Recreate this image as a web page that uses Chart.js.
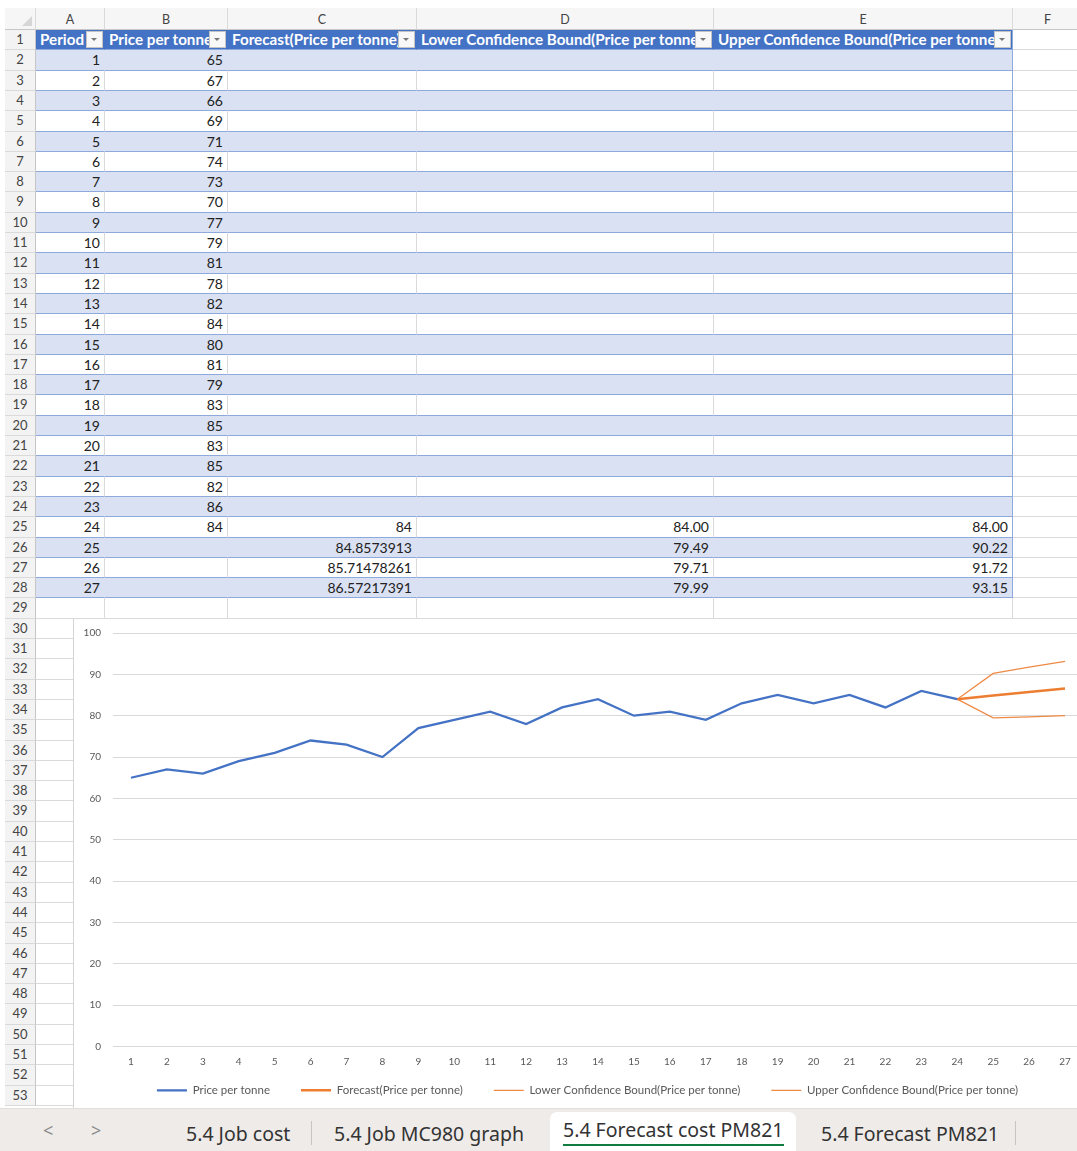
<!DOCTYPE html>
<html>
<head>
<meta charset="utf-8">
<script src="https://cdn.jsdelivr.net/npm/chart.js@4.4.0/dist/chart.umd.min.js"></script>
<style>
  body { margin: 0; width: 1077px; height: 1151px; overflow: hidden; background: #fff; position: relative; font-family: Lato, "Noto Sans", sans-serif; }
  .c { position: absolute; box-sizing: border-box; overflow: hidden; white-space: nowrap; font-size: 14px; color: #222; line-height: 19px; }
  .rh { position: absolute; box-sizing: border-box; left: 5px; width: 31px; background: #f3f3f3; border-right: 1px solid #c6c6c6; border-bottom: 1px solid #dadada; font-size: 13px; color: #444; text-align: center; line-height: 19px; }
  .ch { position: absolute; box-sizing: border-box; top: 8px; height: 22px; background: #f6f6f6; border-right: 1px solid #dadada; border-bottom: 1px solid #c6c6c6; font-size: 12.5px; color: #444; text-align: center; line-height: 23px; }
  .dd { position: absolute; width: 17px; height: 17px; box-sizing: border-box; background: #f8f8f8; border: 1px solid #c4c4c4; }
  .dd::after { content: ""; position: absolute; left: 4px; top: 6px; border-left: 3.5px solid transparent; border-right: 3.5px solid transparent; border-top: 3.5px solid #777; }
  #chartBox { position: absolute; left: 73px; top: 619px; width: 1010px; height: 489px; background: #fff; border-left: 1px solid #d4d4d4; }
  #tabs { position: absolute; left: 0; top: 1108px; width: 1077px; height: 43px; background: #efebe9; border-top: 1px solid #e2dedc; box-sizing: border-box; font-family: "Noto Sans", sans-serif; font-size: 19.5px; color: #333; z-index: 5; }
  .tab { position: absolute; top: 11px; white-space: nowrap; }
  .sep { position: absolute; top: 12px; width: 1px; height: 24px; background: #c8c4c2; }
</style>
</head>
<body>
<div id="sheet"></div>
<div id="chartBox"><canvas id="myChart" width="1012" height="502"></canvas></div>
<div id="tabs">
  <div class="tab" style="left:43px;top:9px;color:#8a8a8a;font-size:18px;">&lt;</div>
  <div class="tab" style="left:91px;top:9px;color:#8a8a8a;font-size:18px;">&gt;</div>
  <div class="tab" style="left:186px;">5.4 Job cost</div>
  <div class="sep" style="left:311px;"></div>
  <div class="tab" style="left:334px;">5.4 Job MC980 graph</div>
  <div style="position:absolute;left:550px;top:3px;width:246px;height:40px;background:#fff;border-radius:7px 7px 0 0;"></div>
  <div class="tab" style="left:563px;top:7px;">5.4 Forecast cost PM821</div>
  <div style="position:absolute;left:563px;top:35px;width:221px;height:2px;background:#107c41;"></div>
  <div class="tab" style="left:821px;">5.4 Forecast PM821</div>
  <div class="sep" style="left:1015px;"></div>
</div>
<script>
const periods = ['1','2','3','4','5','6','7','8','9','10','11','12','13','14','15','16','17','18','19','20','21','22','23','24','25','26','27'];
const pricePerTonne = [65, 67, 66, 69, 71, 74, 73, 70, 77, 79, 81, 78, 82, 84, 80, 81, 79, 83, 85, 83, 85, 82, 86, 84];
// forecast columns start at period 24
const forecastStart = 24;
const forecast = [84, 84.8573913, 85.71478261, 86.57217391];
const lowerBound = [84.00, 79.49, 79.71, 79.99];
const upperBound = [84.00, 90.22, 91.72, 93.15];
const headers = ['Period', 'Price per tonne', 'Forecast(Price per tonne)', 'Lower Confidence Bound(Price per tonne)', 'Upper Confidence Bound(Price per tonne)'];
const colLetters = ['A', 'B', 'C', 'D', 'E', 'F'];

// sheet grid
const cols = [{x: 36, w: 69}, {x: 105, w: 123}, {x: 228, w: 189}, {x: 417, w: 297}, {x: 714, w: 299}, {x: 1013, w: 70}];
const rowTop = n => Math.round(30 + (n - 1) * 20.3);
const sheet = document.getElementById('sheet');

const add = (cls, style, text) => {
  const d = document.createElement('div');
  d.className = cls;
  Object.assign(d.style, style);
  if (text !== undefined) d.textContent = text;
  sheet.appendChild(d);
  return d;
};

add('ch', {left: '5px', width: '31px'}, '');
// little triangle in the corner cell
add('c', {left: '22px', top: '16px', width: '0', height: '0', borderLeft: '10px solid transparent', borderBottom: '10px solid #d6d6d6', zIndex: 2});
cols.forEach((c, i) => add('ch', {left: c.x + 'px', width: c.w + 'px'}, colLetters[i]));

const pad = (arr, start) => periods.map((p, i) => (i >= start - 1 && i - start + 1 < arr.length) ? arr[i - start + 1] : null);
const fcFull = pad(forecast, forecastStart);
const loFull = pad(lowerBound, forecastStart);
const upFull = pad(upperBound, forecastStart);

const cellText = (r, c) => {
  if (r === 1) return headers[c] || '';
  const i = r - 2;
  if (i >= periods.length) return '';
  if (c === 0) return periods[i];
  if (c === 1) return pricePerTonne[i] !== undefined ? String(pricePerTonne[i]) : '';
  if (c === 2) return fcFull[i] !== null ? String(fcFull[i]) : '';
  if (c === 3) return loFull[i] !== null ? loFull[i].toFixed(2) : '';
  if (c === 4) return upFull[i] !== null ? upFull[i].toFixed(2) : '';
  return '';
};

for (let r = 1; r <= 53; r++) {
  const top = rowTop(r), h = rowTop(r + 1) - top;
  add('rh', {top: top + 'px', height: h + 'px'}, String(r));
  cols.forEach((c, ci) => {
    const inTable = ci < 5 && r <= 28;
    const st = {left: c.x + 'px', top: top + 'px', width: c.w + 'px', height: h + 'px',
      borderRight: '1px solid #dadada', borderBottom: '1px solid #dadada'};
    if (inTable) {
      st.borderBottom = '1px solid #8ea9db';
      if (r === 1) {
        st.background = '#4472c4'; st.color = '#fff'; st.fontWeight = 'bold'; st.fontSize = '15.2px';
        st.borderRight = '1px solid #4472c4'; st.paddingLeft = '4px';
      } else {
        if (r % 2 === 0) { st.background = '#d9e1f2'; st.borderRight = '1px solid #d9e1f2'; }
        st.textAlign = 'right'; st.paddingRight = '4px';
      }
      if (ci === 4) st.borderRight = '1px solid #8ea9db';
    }
    add('c', st, inTable ? cellText(r, ci) : '');
    if (r === 1 && ci < 5) add('dd', {left: (c.x + c.w - 19) + 'px', top: (top + 1) + 'px'});
  });
}

// chart
Chart.defaults.font.family = 'Lato, "Noto Sans", sans-serif';
Chart.defaults.font.size = 10;
Chart.defaults.color = '#595959';

// move the legend a bit (Excel centres it on the full chart, which is wider than the window)
const legendNudge = {
  id: 'legendNudge',
  afterLayout(chart) {
    const l = chart.legend;
    l.left += 9; l.right += 9;
    l.top -= 14; l.bottom -= 14;
  }
};

const ctx = document.getElementById('myChart').getContext('2d');
const myChart = new Chart(ctx, {
  type: 'line',
  data: {
    labels: periods,
    datasets: [{
      label: 'Price per tonne',
      data: pricePerTonne,
      borderColor: '#4472c4',
      borderWidth: 2.25
    }, {
      label: 'Forecast(Price per tonne)',
      data: fcFull,
      borderColor: '#ed7d31',
      borderWidth: 2.5
    }, {
      label: 'Lower Confidence Bound(Price per tonne)',
      data: loFull,
      borderColor: '#ef8a45',
      borderWidth: 1.25
    }, {
      label: 'Upper Confidence Bound(Price per tonne)',
      data: upFull,
      borderColor: '#ef8a45',
      borderWidth: 1.25
    }]
  },
  options: {
    responsive: false,
    animation: false,
    elements: {point: {radius: 0}, line: {tension: 0}},
    layout: {padding: {top: 14, right: 3, bottom: 1, left: 0}},
    scales: {
      x: {
        offset: true,
        grid: {display: false, drawTicks: false},
        border: {display: false},
        ticks: {maxRotation: 0, autoSkip: false, padding: 9},
        afterFit: s => { s.height = 21; s.paddingLeft = 0; s.paddingRight = 0; }
      },
      y: {
        min: 0, max: 100,
        grid: {color: '#d9d9d9', drawTicks: false},
        border: {display: false},
        ticks: {stepSize: 10, padding: 12},
        afterFit: s => { s.width = 39; s.paddingTop = 0; s.paddingBottom = 0; }
      }
    },
    plugins: {
      legend: {
        position: 'bottom',
        labels: {usePointStyle: true, pointStyle: 'line', pointStyleWidth: 30, padding: 31, color: '#595959', font: {size: 11.5}}
      },
      tooltip: {enabled: false}
    }
  },
  plugins: [legendNudge]
});
</script>
</body>
</html>
